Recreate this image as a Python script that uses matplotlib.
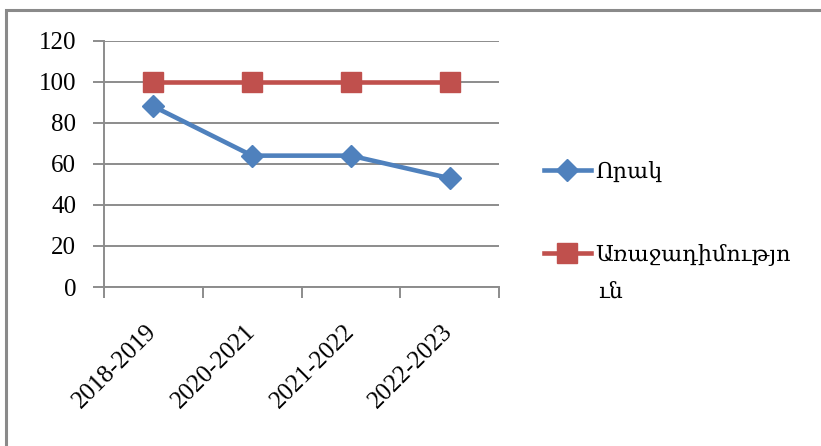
import matplotlib.pyplot as plt
import matplotlib.patches as patches

plt.rcParams['font.family'] = ['Liberation Serif', 'DejaVu Serif']

# data
years = ['2018-2019', '2020-2021', '2021-2022', '2022-2023']
quality = [88, 64, 64, 53]
progress = [100, 100, 100, 100]
label_quality = 'Որակ'
label_progress = 'Առաջադիմությո'
label_progress_wrap = 'ւն'

W, H = 821, 446
fig = plt.figure(figsize=(W / 100, H / 100), dpi=100)

# outer chart frame (gray border, right/bottom run off the picture)
fig.patches.append(patches.Rectangle((6 / W, -0.05), 1.0, (H - 10) / H + 0.05,
                                     transform=fig.transFigure, fill=False,
                                     edgecolor='#8a8a8a', linewidth=2.2))

# plot area in pixels
left, right, top, bottom = 104, 499, 40.7, 287
ax = fig.add_axes([left / W, (H - bottom) / H, (right - left) / W, (bottom - top) / H])

x = range(len(years))
ax.plot(x, quality, color='#4F81BD', linewidth=3.3, marker='D', markersize=11,
        label=label_quality, zorder=3, clip_on=False)
ax.plot(x, progress, color='#C0504D', linewidth=3.3, marker='s', markersize=14,
        label=label_progress, zorder=3, clip_on=False)

ax.set_xlim(-0.5, 3.5)
ax.set_ylim(0, 120)
ax.set_yticks(range(0, 121, 20))
ax.yaxis.grid(True, color='#8c8c8c', linewidth=1.4)
ax.set_axisbelow(True)

ax.set_xticks(list(x))
ax.set_xticklabels(years, rotation=45, ha='right', va='center', rotation_mode='anchor')
ax.set_xticks([-0.5, 0.5, 1.5, 2.5, 3.5], minor=True)
ax.tick_params(axis='x', which='major', length=0, pad=30, labelsize=18)
ax.tick_params(axis='x', which='minor', length=8, width=1.4, color='#8c8c8c', direction='out')
ax.tick_params(axis='y', length=8, width=1.4, color='#8c8c8c', direction='out', pad=12, labelsize=18)

for s in ['top', 'right']:
    ax.spines[s].set_visible(False)
for s in ['left', 'bottom']:
    ax.spines[s].set_color('#8c8c8c')
    ax.spines[s].set_linewidth(1.4)

leg = fig.legend(loc='upper left', bbox_to_anchor=(524 / W, 1 - 142 / H),
                 frameon=False, fontsize=16, handlelength=2.1, handletextpad=0.2,
                 labelspacing=2.75)
# second line of the wrapped legend label
fig.text(598 / W, 1 - 293 / H, label_progress_wrap, fontsize=16, va='center', ha='left')

fig.savefig('out.png', dpi=100, facecolor='white')
